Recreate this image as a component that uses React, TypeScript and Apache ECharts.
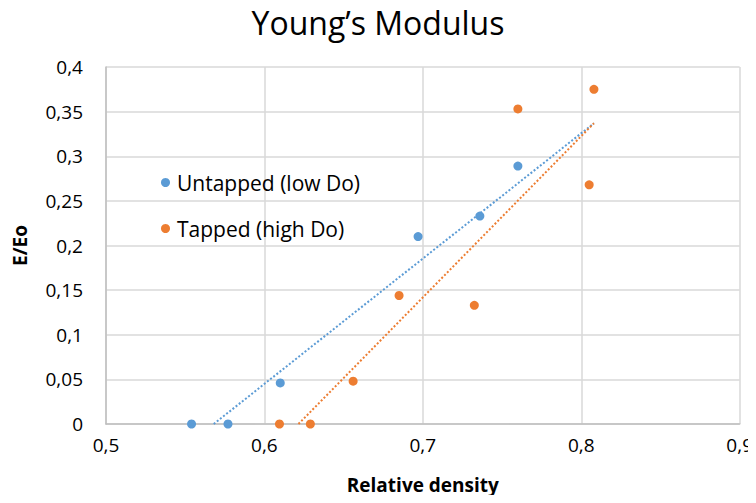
import React, { useEffect, useRef } from "react";
import * as echarts from "echarts";

const untappedX = [0.554, 0.577, 0.61, 0.697, 0.736, 0.76];
const untappedY = [0, 0, 0.046, 0.21, 0.233, 0.289];
const tappedX = [0.6095, 0.629, 0.656, 0.685, 0.7325, 0.76, 0.805, 0.808];
const tappedY = [0, 0, 0.048, 0.144, 0.133, 0.353, 0.268, 0.375];
const untappedTrendX = [0.568, 0.808];
const untappedTrendY = [0, 0.337];
const tappedTrendX = [0.6215, 0.808];
const tappedTrendY = [0, 0.337];

const BLUE = "#5B9BD5";
const ORANGE = "#ED7D31";
const FONT = "'Open Sans', 'Liberation Sans', sans-serif";

const zip = (xs: number[], ys: number[]) => xs.map((x, i) => [x, ys[i]]);
const fmt = (v: number) => String(Math.round(v * 100) / 100).replace(".", ",");

export default function App() {
  const ref = useRef<HTMLDivElement>(null);
  useEffect(() => {
    const chart = echarts.init(ref.current!, null, { renderer: "svg" });
    chart.setOption({
      animation: false,
      title: {
        text: "Young\u2019s Modulus",
        left: "center",
        top: 1,
        textStyle: { fontFamily: FONT, fontSize: 32, fontWeight: "normal", color: "#000" },
      },
      legend: {
        orient: "vertical",
        left: 156,
        top: 167,
        itemGap: 25,
        itemWidth: 9,
        itemHeight: 9,
        icon: "circle",
        data: ["Untapped (low Do)", "Tapped (high Do)"],
        textStyle: { fontFamily: FONT, fontSize: 21, color: "#000", padding: [0, 0, 0, 2] },
      },
      grid: { left: 106, right: 14, top: 67, bottom: 79 },
      xAxis: {
        type: "value",
        min: 0.5,
        max: 0.9,
        interval: 0.1,
        name: "Relative density",
        nameLocation: "middle",
        nameGap: 51,
        nameTextStyle: { fontFamily: FONT, fontSize: 19, fontWeight: "bold", color: "#000" },
        axisLine: { show: true, lineStyle: { color: "#bfbfbf", width: 1.5 } },
        axisTick: { show: false },
        axisLabel: { formatter: fmt, fontFamily: FONT, fontSize: 19, color: "#000", margin: 11 },
        splitLine: { show: true, lineStyle: { color: "#d9d9d9", width: 1.5 } },
      },
      yAxis: {
        type: "value",
        min: 0,
        max: 0.4,
        interval: 0.05,
        name: "E/Eo",
        nameLocation: "middle",
        nameRotate: 90,
        nameGap: 77,
        nameTextStyle: { fontFamily: FONT, fontSize: 19, fontWeight: "bold", color: "#000" },
        axisLine: { show: true, lineStyle: { color: "#bfbfbf", width: 1.5 } },
        axisTick: { show: false },
        axisLabel: { formatter: fmt, fontFamily: FONT, fontSize: 19, color: "#000", margin: 23 },
        splitLine: { show: true, lineStyle: { color: "#d9d9d9", width: 1.5 } },
      },
      series: [
        {
          name: "Untapped (low Do)",
          type: "scatter",
          symbolSize: 9,
          itemStyle: { color: BLUE, opacity: 1 },
          data: zip(untappedX, untappedY),
          z: 3,
        },
        {
          name: "Tapped (high Do)",
          type: "scatter",
          symbolSize: 9,
          itemStyle: { color: ORANGE, opacity: 1 },
          data: zip(tappedX, tappedY),
          z: 3,
        },
        {
          name: "untappedTrend",
          type: "line",
          showSymbol: false,
          symbol: "none",
          lineStyle: { color: BLUE, type: [2, 2], width: 2 },
          data: zip(untappedTrendX, untappedTrendY),
          z: 2,
        },
        {
          name: "tappedTrend",
          type: "line",
          showSymbol: false,
          symbol: "none",
          lineStyle: { color: ORANGE, type: [2, 2], width: 2 },
          data: zip(tappedTrendX, tappedTrendY),
          z: 2,
        },
      ],
    });
    return () => chart.dispose();
  }, []);
  return <div ref={ref} style={{ width: 756, height: 503, margin: -8, background: "#fff" }} />;
}
